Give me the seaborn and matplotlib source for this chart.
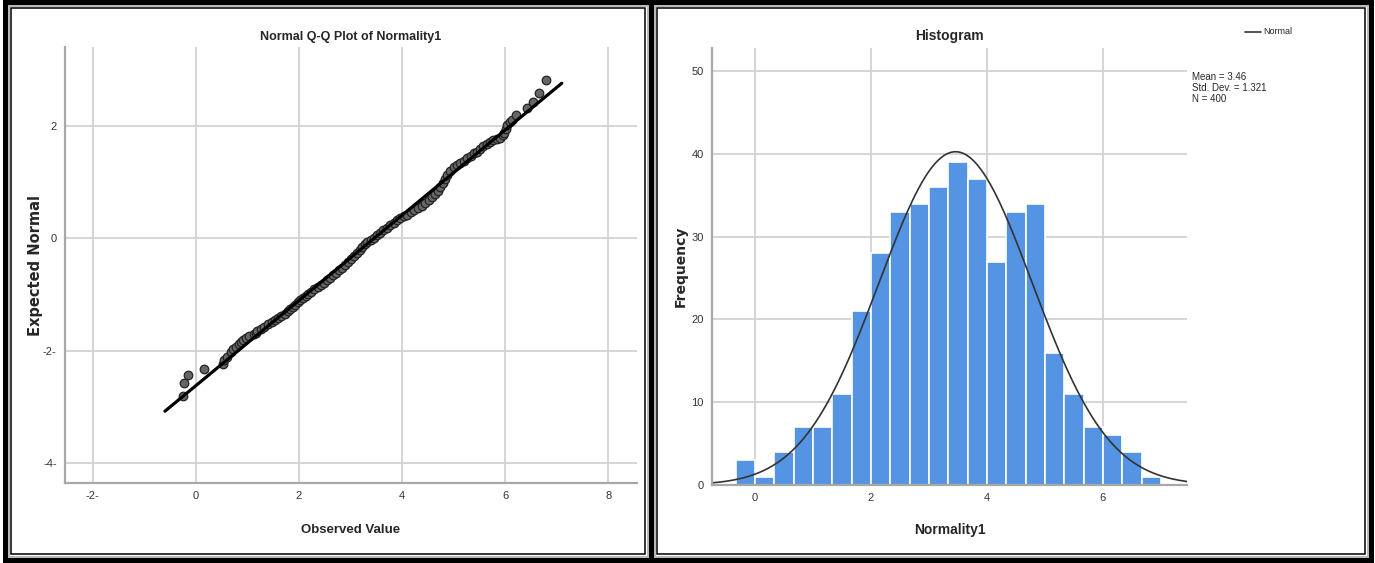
import numpy as np
import pandas as pd
import matplotlib
import matplotlib.pyplot as plt
import seaborn as sns
from matplotlib.patches import Rectangle
from matplotlib.lines import Line2D
matplotlib.use('Agg')

# ---- data ----
QQ_OBSERVED = [
    -0.25, -0.23, -0.15, 0.16, 0.52, 0.54, 0.60, 0.68, 0.72, 0.78,
    0.84, 0.88, 0.92, 0.98, 1.04, 1.12, 1.17, 1.19, 1.26, 1.33,
    1.40, 1.47, 1.54, 1.60, 1.66, 1.72, 1.78, 1.83, 1.88, 1.93,
    1.98, 2.03, 2.08, 2.13, 2.18, 2.24, 2.30, 2.36, 2.42, 2.48,
    2.54, 2.60, 2.66, 2.72, 2.78, 2.84, 2.90, 2.96, 3.01, 3.06,
    3.12, 3.18, 3.23, 3.28, 3.33, 3.39, 3.45, 3.51, 3.57, 3.63,
    3.70, 3.77, 3.84, 3.90, 3.97, 4.04, 4.10, 4.17, 4.24, 4.31,
    4.38, 4.45, 4.52, 4.59, 4.64, 4.69, 4.74, 4.79, 4.84, 4.88,
    4.94, 5.00, 5.06, 5.13, 5.20, 5.26, 5.33, 5.40, 5.45, 5.52,
    5.58, 5.64, 5.71, 5.77, 5.84, 5.90, 5.95, 5.98, 6.01, 6.04,
    6.09, 6.13, 6.21, 6.43, 6.54, 6.65, 6.79,
]
QQ_EXPECTED = [
    -2.80, -2.58, -2.43, -2.33, -2.24, -2.17, -2.11, -2.03, -1.97, -1.93,
    -1.88, -1.84, -1.81, -1.77, -1.74, -1.71, -1.68, -1.64, -1.61, -1.57,
    -1.53, -1.49, -1.45, -1.41, -1.38, -1.35, -1.30, -1.26, -1.22, -1.18,
    -1.14, -1.10, -1.06, -1.03, -0.99, -0.95, -0.91, -0.87, -0.83, -0.79,
    -0.75, -0.70, -0.65, -0.61, -0.57, -0.52, -0.47, -0.42, -0.37, -0.31,
    -0.26, -0.21, -0.16, -0.11, -0.07, -0.03, 0.01, 0.05, 0.10, 0.14,
    0.19, 0.24, 0.28, 0.32, 0.36, 0.39, 0.42, 0.46, 0.50, 0.54,
    0.58, 0.63, 0.68, 0.73, 0.78, 0.84, 0.91, 0.98, 1.06, 1.13,
    1.20, 1.26, 1.30, 1.34, 1.38, 1.42, 1.47, 1.51, 1.54, 1.59,
    1.64, 1.68, 1.72, 1.75, 1.77, 1.79, 1.83, 1.88, 1.95, 2.01,
    2.06, 2.11, 2.20, 2.32, 2.43, 2.58, 2.81,
]
QQ_LINE_X = [-0.6, 7.1]

# histogram counts, bins of width 1/3 starting at -1/3
HIST_COUNTS = [3, 1, 4, 7, 7, 11, 21, 28, 33, 34, 36, 39, 37, 27, 33, 34, 16, 11, 7, 6, 4, 1]
BIN_START = -1 / 3
BIN_WIDTH = 1 / 3
MEAN = 3.46
STD = 1.321
N = 400

QQ_XTICKS = [-2, 0, 2, 4, 6, 8]
QQ_XTICK_LABELS = ['-2-', '0', '2', '4', '6', '8']
QQ_YTICKS = [-4, -2, 0, 2]
QQ_YTICK_LABELS = ['-4-', '-2-', '0', '2']
HIST_XTICKS = [0, 2, 4, 6]
HIST_YTICKS = [0, 10, 20, 30, 40, 50]

W, H = 1375, 563
SANS = ['Liberation Sans', 'DejaVu Sans']
WIDE = ['DejaVu Sans']
GRID = '#d2d2d2'
SPINE = '#a8a8a8'
BAR = '#5594e2'

sns.set_style('white')
plt.rcParams['font.family'] = SANS


def fx(px):
    return px / W


def fy(py):
    return 1 - py / H


def frame(fig, x0, y0, x1, y1):
    """
    Double black border of an SPSS output panel (pixel coords)
    """
    specs = [(0, 3.6, 'black'), (3.5, 1.4, '#b8b8b8'), (6, 1.1, 'black')]
    for inset, lw, col in specs:
        a, b = fx(x0 + inset), fy(y1 - inset)
        fig.add_artist(Rectangle((a, b), fx(x1 - inset) - a, fy(y0 + inset) - b,
                                 transform=fig.transFigure, fill=False,
                                 lw=lw, edgecolor=col))


def style_axes(ax):
    ax.grid(True, color=GRID, lw=1.3)
    ax.set_axisbelow(True)
    for s in ['top', 'right']:
        ax.spines[s].set_visible(False)
    for s in ['left', 'bottom']:
        ax.spines[s].set_color(SPINE)
        ax.spines[s].set_linewidth(1.6)
    ax.tick_params(length=0, labelsize=8, labelcolor='#333333', pad=6)


fig = plt.figure(figsize=(W / 100, H / 100), dpi=100)

# ---- left: normal Q-Q plot ----
ax1 = fig.add_axes([fx(65), fy(483), fx(637) - fx(65), fy(47) - fy(483)])
style_axes(ax1)
sns.scatterplot(x=QQ_OBSERVED, y=QQ_EXPECTED, s=38, color='#666666',
                edgecolor='#222222', linewidth=0.9, ax=ax1, zorder=3)
line_x = np.array(QQ_LINE_X)
sns.lineplot(x=line_x, y=(line_x - MEAN) / STD, color='black', lw=2.3, ax=ax1, zorder=4)
ax1.set_xlim(-2.54, 8.56)
ax1.set_ylim(-4.35, 3.40)
ax1.set_xticks(QQ_XTICKS)
ax1.set_xticklabels(QQ_XTICK_LABELS)
ax1.set_yticks(QQ_YTICKS)
ax1.set_yticklabels(QQ_YTICK_LABELS)
ax1.set_title('Normal Q-Q Plot of Normality1', fontsize=9, fontweight='bold', pad=5)
ax1.set_xlabel('Observed Value', fontsize=9.5, fontweight='bold')
ax1.xaxis.set_label_coords(0.5, -0.094)
ax1.set_ylabel('Expected Normal', fontsize=10.5, fontweight='bold', family=WIDE)
ax1.yaxis.set_label_coords(-0.038, 0.5)

# ---- right: histogram with normal curve ----
ax2 = fig.add_axes([fx(712), fy(485), fx(1187) - fx(712), fy(48) - fy(485)])
style_axes(ax2)
n_bins = len(HIST_COUNTS)
centers = BIN_START + BIN_WIDTH * (np.arange(n_bins) + 0.5)
hist_df = pd.DataFrame({'value': centers, 'count': HIST_COUNTS})
sns.histplot(data=hist_df, x='value', weights='count', binwidth=BIN_WIDTH,
             binrange=(BIN_START, BIN_START + n_bins * BIN_WIDTH), color=BAR, alpha=1,
             edgecolor='white', linewidth=1.2, ax=ax2)
xs = np.linspace(-0.74, 7.45, 300)
curve = N * BIN_WIDTH * np.exp(-0.5 * ((xs - MEAN) / STD) ** 2) / (STD * np.sqrt(2 * np.pi))
sns.lineplot(x=xs, y=curve, color='#333333', lw=1.2, ax=ax2)
ax2.set_xlim(-0.74, 7.45)
ax2.set_ylim(0, 52.8)
ax2.set_xticks(HIST_XTICKS)
ax2.set_yticks(HIST_YTICKS)
ax2.set_title('Histogram', fontsize=10, fontweight='bold', pad=6)
ax2.set_xlabel('Normality1', fontsize=10, fontweight='bold')
ax2.xaxis.set_label_coords(0.5, -0.086)
ax2.set_ylabel('Frequency', fontsize=10, fontweight='bold', family=WIDE)
ax2.yaxis.set_label_coords(-0.052, 0.5)

fig.add_artist(Line2D([fx(1245), fx(1261)], [fy(32), fy(32)], color='#333333',
                      lw=1.2, transform=fig.transFigure))
fig.text(fx(1263), fy(32), 'Normal', fontsize=6.5, va='center', ha='left')
fig.text(fx(1192), fy(72), 'Mean = 3.46\nStd. Dev. = 1.321\nN = 400',
         fontsize=7, va='top', ha='left', linespacing=1.15)

frame(fig, 5, 2, 651, 560)
frame(fig, 651, 2, 1371, 560)

fig.savefig('out.png', dpi=100)
